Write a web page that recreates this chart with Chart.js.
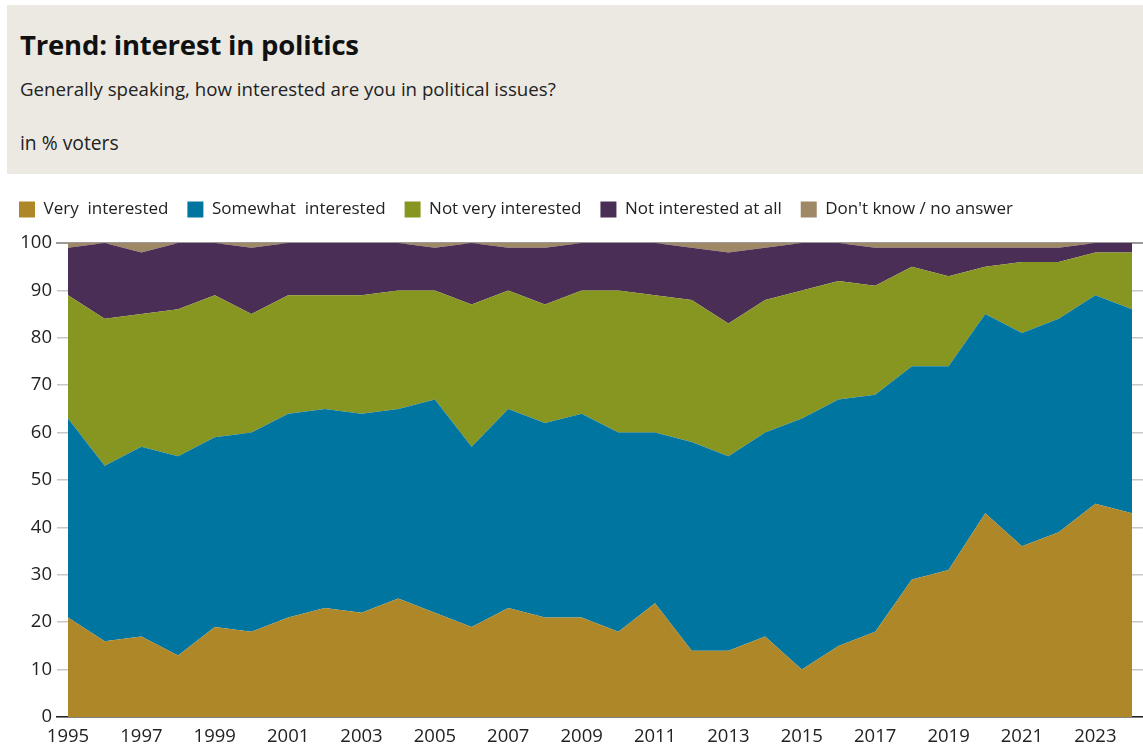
<!DOCTYPE html>
<html>
<head>
<meta charset="utf-8">
<script src="https://cdn.jsdelivr.net/npm/chart.js@4"></script>
<style>
  body { margin: 0; background: #fff; font-family: "Open Sans", sans-serif; color: #111; }
  #head { position: absolute; left: 7px; top: 5px; width: 1136px; height: 169px; background: #ece9e3; }
  #head h1 { position: absolute; left: 13px; top: 21px; margin: 0; font-size: 27.5px; font-weight: 700; letter-spacing: -0.2px; }
  #head .q { position: absolute; left: 13px; top: 71px; margin: 0; font-size: 18.7px; color: #222; }
  #head .u { position: absolute; left: 13px; top: 124px; margin: 0; font-size: 19.3px; color: #222; }
  #wrap { position: absolute; left: 0; top: 182px; width: 1143px; height: 567px; }
</style>
</head>
<body>
<div id="head">
  <h1>Trend: interest in politics</h1>
  <p class="q">Generally speaking, how interested are you in political issues?</p>
  <p class="u">in % voters</p>
</div>
<div id="wrap"><canvas id="chart1"></canvas></div>
<script>
  const years = [1995, 1996, 1997, 1998, 1999, 2000, 2001, 2002, 2003, 2004,
                 2005, 2006, 2007, 2008, 2009, 2010, 2011, 2012, 2013, 2014,
                 2015, 2016, 2017, 2018, 2019, 2020, 2021, 2022, 2023, 2024];
  const yearTicks = [1995, 1997, 1999, 2001, 2003, 2005, 2007, 2009, 2011, 2013, 2015, 2017, 2019, 2021, 2023];

  const veryInterested     = [21, 16, 17, 13, 19, 18, 21, 23, 22, 25, 22, 19, 23, 21, 21, 18, 24, 14, 14, 17, 10, 15, 18, 29, 31, 43, 36, 39, 45, 43];
  const somewhatInterested = [42, 37, 40, 42, 40, 42, 43, 42, 42, 40, 45, 38, 42, 41, 43, 42, 36, 44, 41, 43, 53, 52, 50, 45, 43, 42, 45, 45, 44, 43];
  const notVeryInterested  = [26, 31, 28, 31, 30, 25, 25, 24, 25, 25, 23, 30, 25, 25, 26, 30, 29, 30, 28, 28, 27, 25, 23, 21, 19, 10, 15, 12,  9, 12];
  const notInterestedAtAll = [10, 16, 13, 14, 11, 14, 11, 11, 11, 10,  9, 13,  9, 12, 10, 10, 11, 11, 15, 11, 10,  8,  8,  4,  6,  4,  3,  3,  2,  2];
  const dontKnow           = [ 1,  0,  2,  0,  0,  1,  0,  0,  0,  0,  1,  0,  1,  1,  0,  0,  0,  1,  2,  1,  0,  0,  1,  1,  1,  1,  1,  1,  0,  0];

  const yTicks = [0, 10, 20, 30, 40, 50, 60, 70, 80, 90, 100];

  const series = [
    { label: 'Very  interested', values: veryInterested, color: '#ae8729' },
    { label: 'Somewhat  interested', values: somewhatInterested, color: '#0075a0' },
    { label: 'Not very interested', values: notVeryInterested, color: '#879521' },
    { label: 'Not interested at all', values: notInterestedAtAll, color: '#4b2e56' },
    { label: "Don't know / no answer", values: dontKnow, color: '#9e8866' }
  ];

  const legendFont = { family: '"Open Sans", sans-serif', size: 17 };
  const axisFont = { family: '"Open Sans", sans-serif', size: 18.5 };

  // a bit of room between the legend and the plot
  const legendGap = {
    id: 'legendGap',
    beforeInit(chart) {
      const fit = chart.legend.fit;
      chart.legend.fit = function () {
        fit.bind(chart.legend)();
        this.height += 15;
      };
    }
  };

  const ctx = document.getElementById('chart1').getContext('2d');

  const chart1 = new Chart(ctx, {
    type: 'line',
    data: {
      datasets: series.map((s, i) => ({
        label: s.label,
        data: years.map((yr, j) => ({ x: yr, y: s.values[j] })),
        backgroundColor: s.color,
        borderColor: s.color,
        borderWidth: 0,
        pointRadius: 0,
        tension: 0,
        fill: i === 0 ? 'origin' : '-1'
      }))
    },
    options: {
      responsive: true,
      maintainAspectRatio: false,
      animation: false,
      layout: { padding: 0 },
      plugins: {
        legend: {
          position: 'top',
          align: 'start',
          labels: {
            boxWidth: 16,
            boxHeight: 16,
            padding: 19,
            color: '#222',
            font: legendFont
          }
        },
        tooltip: { enabled: false }
      },
      scales: {
        x: {
          type: 'linear',
          min: 1994.7,
          max: 2024.3,
          afterBuildTicks: (scale) => { scale.ticks = yearTicks.map(v => ({ value: v })); },
          afterFit: (scale) => { scale.height = 32; },
          grid: { display: false, drawTicks: false },
          border: { display: true, color: '#222', width: 1.5 },
          ticks: {
            color: '#222',
            font: axisFont,
            padding: 9,
            maxRotation: 0,
            autoSkip: false,
            callback: (v) => String(v)
          }
        },
        xTop: {
          type: 'linear',
          position: 'top',
          min: 1994.7,
          max: 2024.3,
          z: 1,
          grid: { display: false, drawTicks: false },
          ticks: { display: false },
          border: { display: true, color: '#9a9a9a', width: 2 }
        },
        y: {
          stacked: true,
          min: 0,
          max: 100,
          afterBuildTicks: (scale) => { scale.ticks = yTicks.map(v => ({ value: v })); },
          afterFit: (scale) => { scale.width = 57; },
          grid: { color: '#c8c8c8', lineWidth: 1.5, drawTicks: false },
          border: { display: false },
          ticks: { color: '#222', font: axisFont, padding: 5 }
        }
      }
    },
    plugins: [legendGap]
  });
</script>
</body>
</html>
